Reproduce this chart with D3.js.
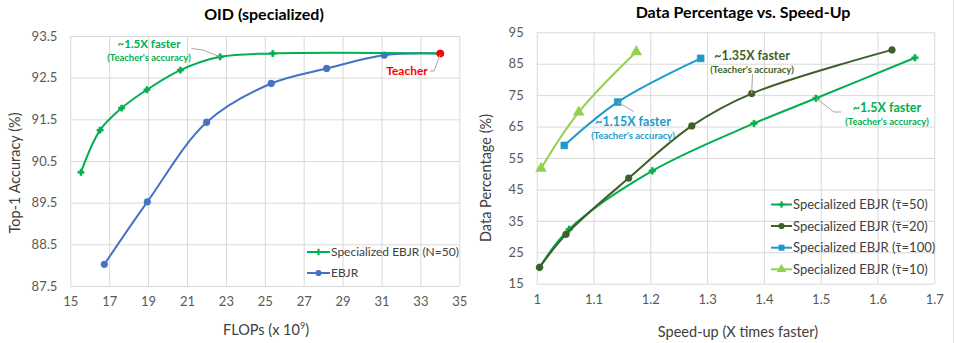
<!DOCTYPE html>
<html>
<head>
<meta charset="utf-8">
<script src="https://cdn.jsdelivr.net/npm/d3@7"></script>
<style>
  html, body { margin: 0; padding: 0; background: #fff; }
  svg { display: block; font-family: Lato, "Open Sans", sans-serif; }
</style>
</head>
<body>
<svg id="chart" width="955" height="343"></svg>
<script>
// ---- Left panel: OID (specialized) ----
const oidXTicks = [15, 17, 19, 21, 23, 25, 27, 29, 31, 33, 35];
const oidYTicks = [87.5, 88.5, 89.5, 90.5, 91.5, 92.5, 93.5];
const specFlops = [15.55, 16.53, 17.64, 18.94, 20.66, 22.70, 25.41, 34.02];
const specAcc   = [90.23, 91.24, 91.77, 92.21, 92.68, 93.00, 93.08, 93.08];
const ebjrFlops = [16.75, 18.96, 22.01, 25.33, 28.18, 31.14, 34.02];
const ebjrAcc   = [88.02, 89.52, 91.43, 92.36, 92.72, 93.04, 93.08];
const teacherFlops = 34.02;
const teacherAcc = 93.08;

// ---- Right panel: Data Percentage vs. Speed-Up ----
const spXTicks = [1, 1.1, 1.2, 1.3, 1.4, 1.5, 1.6, 1.7];
const spYTicks = [15, 25, 35, 45, 55, 65, 75, 85, 95];
const tau50Speed = [1.005, 1.057, 1.2035, 1.3826, 1.4917, 1.666];
const tau50Data  = [20.2, 32.3, 50.9, 66.0, 74.0, 86.9];
const tau20Speed = [1.005, 1.0516, 1.162, 1.273, 1.3785, 1.6255];
const tau20Data  = [20.2, 30.7, 48.6, 65.2, 75.5, 89.4];
const tau100Speed = [1.0486, 1.1426, 1.2887];
const tau100Data  = [59.0, 72.8, 86.7];
const tau10Speed = [1.0076, 1.074, 1.1754];
const tau10Data  = [51.7, 69.6, 88.8];

const svg = d3.select("#chart");
const gridColor = "#d9d9d9";
const tickColor = "#595959";
const titleColor = "#404040";

function drawFrame(x, y, xTicks, yTicks, fmtX, fmtY) {
  const g = svg.append("g");
  const [x0, x1] = x.range();
  const [y0, y1] = y.range();
  g.append("g")
    .attr("transform", `translate(0,${y0})`)
    .call(d3.axisBottom(x).tickValues(xTicks).tickFormat(fmtX).tickSize(-(y0 - y1)).tickPadding(11))
    .call(a => a.select(".domain").remove())
    .call(a => a.selectAll("line").attr("stroke", gridColor))
    .call(a => a.selectAll("text").attr("fill", tickColor).attr("font-size", 13).attr("font-family", "Lato"));
  g.append("g")
    .attr("transform", `translate(${x0},0)`)
    .call(d3.axisLeft(y).tickValues(yTicks).tickFormat(fmtY).tickSize(-(x1 - x0)).tickPadding(13))
    .call(a => a.select(".domain").remove())
    .call(a => a.selectAll("line").attr("stroke", gridColor))
    .call(a => a.selectAll("text").attr("fill", tickColor).attr("font-size", 13).attr("font-family", "Lato"));
  return g;
}

function drawSeries(x, y, xs, ys, color, symbol, size, curve) {
  const pts = xs.map((v, i) => [v, ys[i]]);
  const line = d3.line().x(d => x(d[0])).y(d => y(d[1])).curve(curve || d3.curveCatmullRom.alpha(0.5));
  svg.append("path").datum(pts)
    .attr("d", line).attr("fill", "none").attr("stroke", color).attr("stroke-width", 2);
  svg.append("g").selectAll("path").data(pts).join("path")
    .attr("transform", d => `translate(${x(d[0])},${y(d[1])})`)
    .attr("d", d3.symbol().type(symbol).size(size))
    .attr("fill", color).attr("stroke", color).attr("stroke-width", 0.5);
}

function legendItem(x0, y0, len, color, symbol, size, label, fs) {
  svg.append("line").attr("x1", x0).attr("x2", x0 + len).attr("y1", y0).attr("y2", y0)
    .attr("stroke", color).attr("stroke-width", 2);
  svg.append("path").attr("transform", `translate(${x0 + len / 2},${y0})`)
    .attr("d", d3.symbol().type(symbol).size(size)).attr("fill", color);
  svg.append("text").attr("x", x0 + len + 1).attr("y", y0).attr("dy", "0.35em")
    .attr("font-size", fs).attr("fill", titleColor).text(label);
}

function leader(points) {
  svg.append("path").attr("d", d3.line()(points))
    .attr("fill", "none").attr("stroke", "#a6a6a6").attr("stroke-width", 1);
}

function note(cx, cy, main, color, mainSize, subSize) {
  svg.append("text").attr("x", cx).attr("y", cy).attr("text-anchor", "middle")
    .attr("font-size", mainSize).attr("font-weight", "bold").attr("fill", color).text(main);
  svg.append("text").attr("x", cx).attr("y", cy + 12.5).attr("text-anchor", "middle")
    .attr("font-size", subSize).attr("font-weight", "bold").attr("fill", color).text("(Teacher's accuracy)");
}

// ===== Left panel =====
{
  const x = d3.scaleLinear().domain([15, 35]).range([70.3, 459.3]);
  const y = d3.scaleLinear().domain([87.5, 93.5]).range([286, 36]);
  drawFrame(x, y, oidXTicks, oidYTicks, d3.format("d"), d3.format(".1f"));

  svg.append("text").attr("x", 264).attr("y", 20).attr("text-anchor", "middle")
    .attr("font-size", 16).attr("font-weight", "bold").attr("fill", "#000").text("OID (specialized)");
  svg.append("text").attr("transform", "translate(20,173) rotate(-90)").attr("text-anchor", "middle")
    .attr("font-size", 14.5).attr("fill", titleColor).text("Top-1 Accuracy (%)");
  const xt = svg.append("text").attr("x", 266).attr("y", 335).attr("text-anchor", "middle")
    .attr("font-size", 14.5).attr("fill", titleColor);
  xt.append("tspan").text("FLOPs (x 10");
  xt.append("tspan").attr("font-size", 9).attr("dy", -6).text("9");
  xt.append("tspan").attr("dy", 6).text(")");

  drawSeries(x, y, ebjrFlops, ebjrAcc, "#4472c4", d3.symbolCircle, 36);
  drawSeries(x, y, specFlops.slice(0, -1).concat([teacherFlops]), specAcc, "#00b050", d3.symbolCross, 22);
  svg.append("circle").attr("cx", x(teacherFlops)).attr("cy", y(teacherAcc)).attr("r", 3.8).attr("fill", "#ff0000");

  // annotations
  leader([[191.5, 48.5], [203, 50], [x(22.70), y(93.00)]]);
  note(149, 48, "~1.5X faster", "#00b050", 11.5, 9.5);
  leader([[430, 71], [434, 71], [x(teacherFlops), y(teacherAcc) + 1]]);
  svg.append("text").attr("x", 407).attr("y", 75).attr("text-anchor", "middle")
    .attr("font-size", 12).attr("font-weight", "bold").attr("fill", "#ff0000").text("Teacher");

  legendItem(307, 252, 23, "#00b050", d3.symbolCross, 22, "Specialized EBJR (N=50)", 12);
  legendItem(307, 273, 23, "#4472c4", d3.symbolCircle, 30, "EBJR", 12);
}

// ===== Right panel =====
{
  const x = d3.scaleLinear().domain([1, 1.7]).range([536.7, 934.3]);
  const y = d3.scaleLinear().domain([15, 95]).range([283.7, 32.3]);
  drawFrame(x, y, spXTicks, spYTicks, d => (d === 1 ? "1" : d3.format(".1f")(d)), d3.format("d"));

  svg.append("text").attr("x", 743).attr("y", 18).attr("text-anchor", "middle")
    .attr("font-size", 16).attr("font-weight", "bold").attr("fill", "#000").text("Data Percentage vs. Speed-Up");
  svg.append("text").attr("transform", "translate(491,178) rotate(-90)").attr("text-anchor", "middle")
    .attr("font-size", 14.5).attr("fill", titleColor).text("Data Percentage (%)");
  svg.append("text").attr("x", 738).attr("y", 337).attr("text-anchor", "middle")
    .attr("font-size", 14.5).attr("fill", titleColor).text("Speed-up (X times faster)");

  drawSeries(x, y, tau50Speed, tau50Data, "#00b050", d3.symbolCross, 24);
  drawSeries(x, y, tau20Speed, tau20Data, "#3f5f27", d3.symbolCircle, 36);
  drawSeries(x, y, tau100Speed, tau100Data, "#1c9bcb", d3.symbolSquare, 48);
  drawSeries(x, y, tau10Speed, tau10Data, "#92d050", d3.symbolTriangle, 50);

  // annotations
  leader([[x(1.1426), y(72.8)], [633.5, 111.5]]);
  note(633, 126, "~1.15X faster", "#1c9bcb", 12.5, 9.5);
  leader([[x(1.3785), y(75.5)], [752.5, 74]]);
  note(752, 60, "~1.35X faster", "#3f5f27", 12.5, 9.5);
  leader([[x(1.4917), y(74.0)], [834, 112], [841, 112]]);
  note(887, 112, "~1.5X faster", "#00b050", 12.5, 9.5);

  const lx = 771, len = 21;
  legendItem(lx, 204.5, len, "#00b050", d3.symbolCross, 22, "Specialized EBJR (τ\u0304=50)", 13);
  legendItem(lx, 226, len, "#3f5f27", d3.symbolCircle, 30, "Specialized EBJR (τ\u0304=20)", 13);
  legendItem(lx, 247.7, len, "#1c9bcb", d3.symbolSquare, 36, "Specialized EBJR (τ\u0304=100)", 13);
  legendItem(lx, 269.3, len, "#92d050", d3.symbolTriangle, 40, "Specialized EBJR (τ\u0304=10)", 13);
}

// thin frame line along the right edge of the figure
svg.append("line").attr("x1", 953.5).attr("x2", 953.5).attr("y1", 0).attr("y2", 343)
  .attr("stroke", "#e3e3e3").attr("stroke-width", 1);
</script>
</body>
</html>
